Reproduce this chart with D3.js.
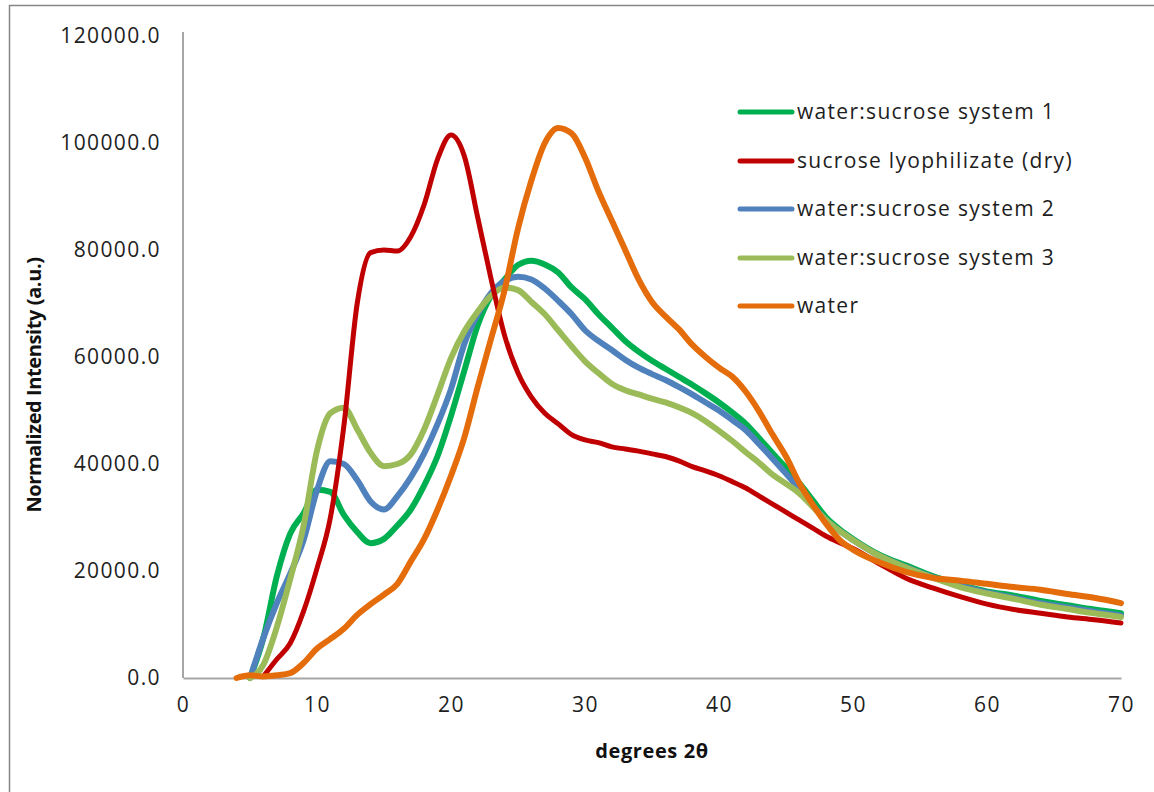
<!DOCTYPE html>
<html>
<head>
<meta charset="utf-8">
<script src="https://cdn.jsdelivr.net/npm/d3@7"></script>
<style>
  html, body { margin: 0; padding: 0; background: #fff; }
  svg { display: block; }
  .tick-label { font-family: "Open Sans", "Noto Sans", sans-serif; font-size: 21px; fill: #1e1e1e; letter-spacing: 1.4px; }
  .legend-label { font-family: "Open Sans", "Noto Sans", sans-serif; font-size: 21px; fill: #1e1e1e; letter-spacing: 1.3px; }
  .axis-title { font-family: "Open Sans", "Noto Sans", sans-serif; font-size: 20px; font-weight: bold; fill: #111; }
</style>
</head>
<body>
<svg id="chart" width="1154" height="792"></svg>
<script>
// Diffraction angle grid (degrees 2θ)
const angles = [4,5,6,7,8,9,10,11,12,13,14,15,16,17,18,19,20,21,22,23,24,25,26,27,28,29,30,
  31,32,33,34,35,36,37,38,39,40,41,42,43,44,45,46,47,48,49,50,52,54,56,58,60,62,64,66,68,70];

// Normalized intensities (a.u.) on the angle grid; null = no data
const system1 = [null,0,7500,19000,27000,30800,35200,34800,30500,27300,25200,26000,28500,31500,36000,41500,49000,57500,66000,71500,74500,77200,78000,77300,75800,73000,70800,
  68000,65500,63000,61000,59300,57800,56300,54800,53200,51500,49600,47500,44800,42000,39300,36400,33200,30000,27800,26000,23000,21000,19000,17400,16200,15400,14400,13600,12800,12100];
const dryLyophilizate = [null,null,300,3500,6500,12500,20500,30000,47000,70000,79500,80000,79800,82500,88500,97000,101500,97500,86000,74500,64000,57000,52500,49500,47500,45500,44500,
  44000,43200,42800,42400,41900,41400,40600,39500,38700,37800,36700,35500,34000,32500,31000,29500,28000,26500,25300,24200,21300,18600,16800,15200,13800,12800,12100,11400,10900,10300];
const system2 = [null,0,7500,14000,19500,25800,35100,40500,40000,37000,33000,31500,34000,37500,42000,47500,54000,62500,68000,72000,74200,75000,74500,72800,70500,68000,65000,
  63000,61300,59500,58000,56800,55700,54400,53000,51500,50000,48200,46300,43700,41000,38200,35300,32300,29500,27500,25800,22800,20700,18800,17200,16000,15000,14000,13200,12400,11700];
const system3 = [null,0,2500,9500,18500,28500,42500,49500,50500,46500,42100,39600,40000,41800,46500,53000,59800,64800,68500,71500,73000,72500,70300,68000,65000,62000,59200,
  57000,55000,53800,53000,52200,51500,50600,49500,48000,46200,44300,42200,40200,38000,36300,34500,32000,29500,27500,25800,22800,20600,18700,17000,15800,14800,13700,12900,12100,11400];
const water = [0,500,300,500,900,2800,5500,7300,9200,11800,13800,15600,17600,21800,26000,31500,37800,45000,54500,63500,72500,84000,93000,100000,102800,101800,97300,
  91000,85500,80000,74500,70300,67600,65200,62300,60000,58000,56300,53500,49800,45500,41400,36400,32400,28800,25800,24000,21600,19800,18700,18200,17600,17000,16500,15700,15000,14000];

// Series in legend order
const seriesNames = ["water:sucrose system 1", "sucrose lyophilizate (dry)", "water:sucrose system 2", "water:sucrose system 3", "water"];
const seriesValues = [system1, dryLyophilizate, system2, system3, water];
const seriesColors = ["#00b050", "#c00000", "#4f81bd", "#9bbb59", "#e46c0a"];
const seriesWidths = [6, 5, 6, 6, 6];
// Stacking order of the traces (later drawn on top)
const drawOrder = [0, 2, 3, 1, 4];

const xTicks = [0,10,20,30,40,50,60,70];
const yTicks = [0,20000,40000,60000,80000,100000,120000];

const svg = d3.select("#chart");

// Chart frame
svg.append("rect")
  .attr("x", 9.5).attr("y", 5.5)
  .attr("width", 1160).attr("height", 800)
  .attr("fill", "#fff").attr("stroke", "#868686").attr("stroke-width", 1.5);

const plot = { left: 183, right: 1121, top: 36, bottom: 678 };
const x = d3.scaleLinear().domain([0, 70]).range([plot.left, plot.right]);
const y = d3.scaleLinear().domain([0, 120000]).range([plot.bottom, plot.top]);

// Axes (no tick marks, gray axis lines)
const xAxis = svg.append("g")
  .attr("transform", `translate(0,${plot.bottom})`)
  .call(d3.axisBottom(x).tickValues(xTicks).tickSize(0).tickPadding(27).tickFormat(d3.format("d")));
const yAxis = svg.append("g")
  .attr("transform", `translate(${plot.left},0)`)
  .call(d3.axisLeft(y).tickValues(yTicks).tickSize(0).tickPadding(22).tickFormat(d3.format(".1f")));
[xAxis, yAxis].forEach(g => {
  g.select(".domain").attr("stroke", "#a6a6a6").attr("stroke-width", 2);
  g.selectAll("text").attr("class", "tick-label").attr("font-family", null).attr("font-size", null).attr("fill", null);
});
yAxis.select(".domain").attr("d", `M0,${plot.bottom}V${plot.top - 4}`);
xAxis.selectAll("text").attr("dy", "0.35em");

// Axis titles
svg.append("text").attr("class", "axis-title")
  .attr("x", 652).attr("y", 753).attr("text-anchor", "middle").attr("dominant-baseline", "middle")
  .attr("letter-spacing", "0.6px")
  .text("degrees 2θ");
svg.append("text").attr("class", "axis-title")
  .attr("transform", "translate(36,385) rotate(-90)")
  .attr("text-anchor", "middle").attr("dominant-baseline", "middle")
  .attr("letter-spacing", "-0.4px")
  .text("Normalized Intensity (a.u.)");

// Traces
const line = d3.line()
  .defined(d => d[1] !== null)
  .x(d => x(d[0]))
  .y(d => y(d[1]))
  .curve(d3.curveMonotoneX);

drawOrder.forEach(i => {
  const pts = angles.map((a, k) => [a, seriesValues[i][k]]);
  svg.append("path")
    .datum(pts)
    .attr("fill", "none")
    .attr("stroke", seriesColors[i])
    .attr("stroke-width", seriesWidths[i])
    .attr("stroke-linejoin", "round")
    .attr("stroke-linecap", "round")
    .attr("d", line);
});

// Legend
const legend = svg.append("g");
const legendY = [112, 161, 209, 258, 306];
seriesNames.forEach((name, i) => {
  legend.append("line")
    .attr("x1", 740).attr("x2", 792)
    .attr("y1", legendY[i]).attr("y2", legendY[i])
    .attr("stroke", seriesColors[i]).attr("stroke-width", 5).attr("stroke-linecap", "round");
  legend.append("text").attr("class", "legend-label")
    .attr("x", 797).attr("y", legendY[i]).attr("dy", "0.35em")
    .text(name);
});
</script>
</body>
</html>
